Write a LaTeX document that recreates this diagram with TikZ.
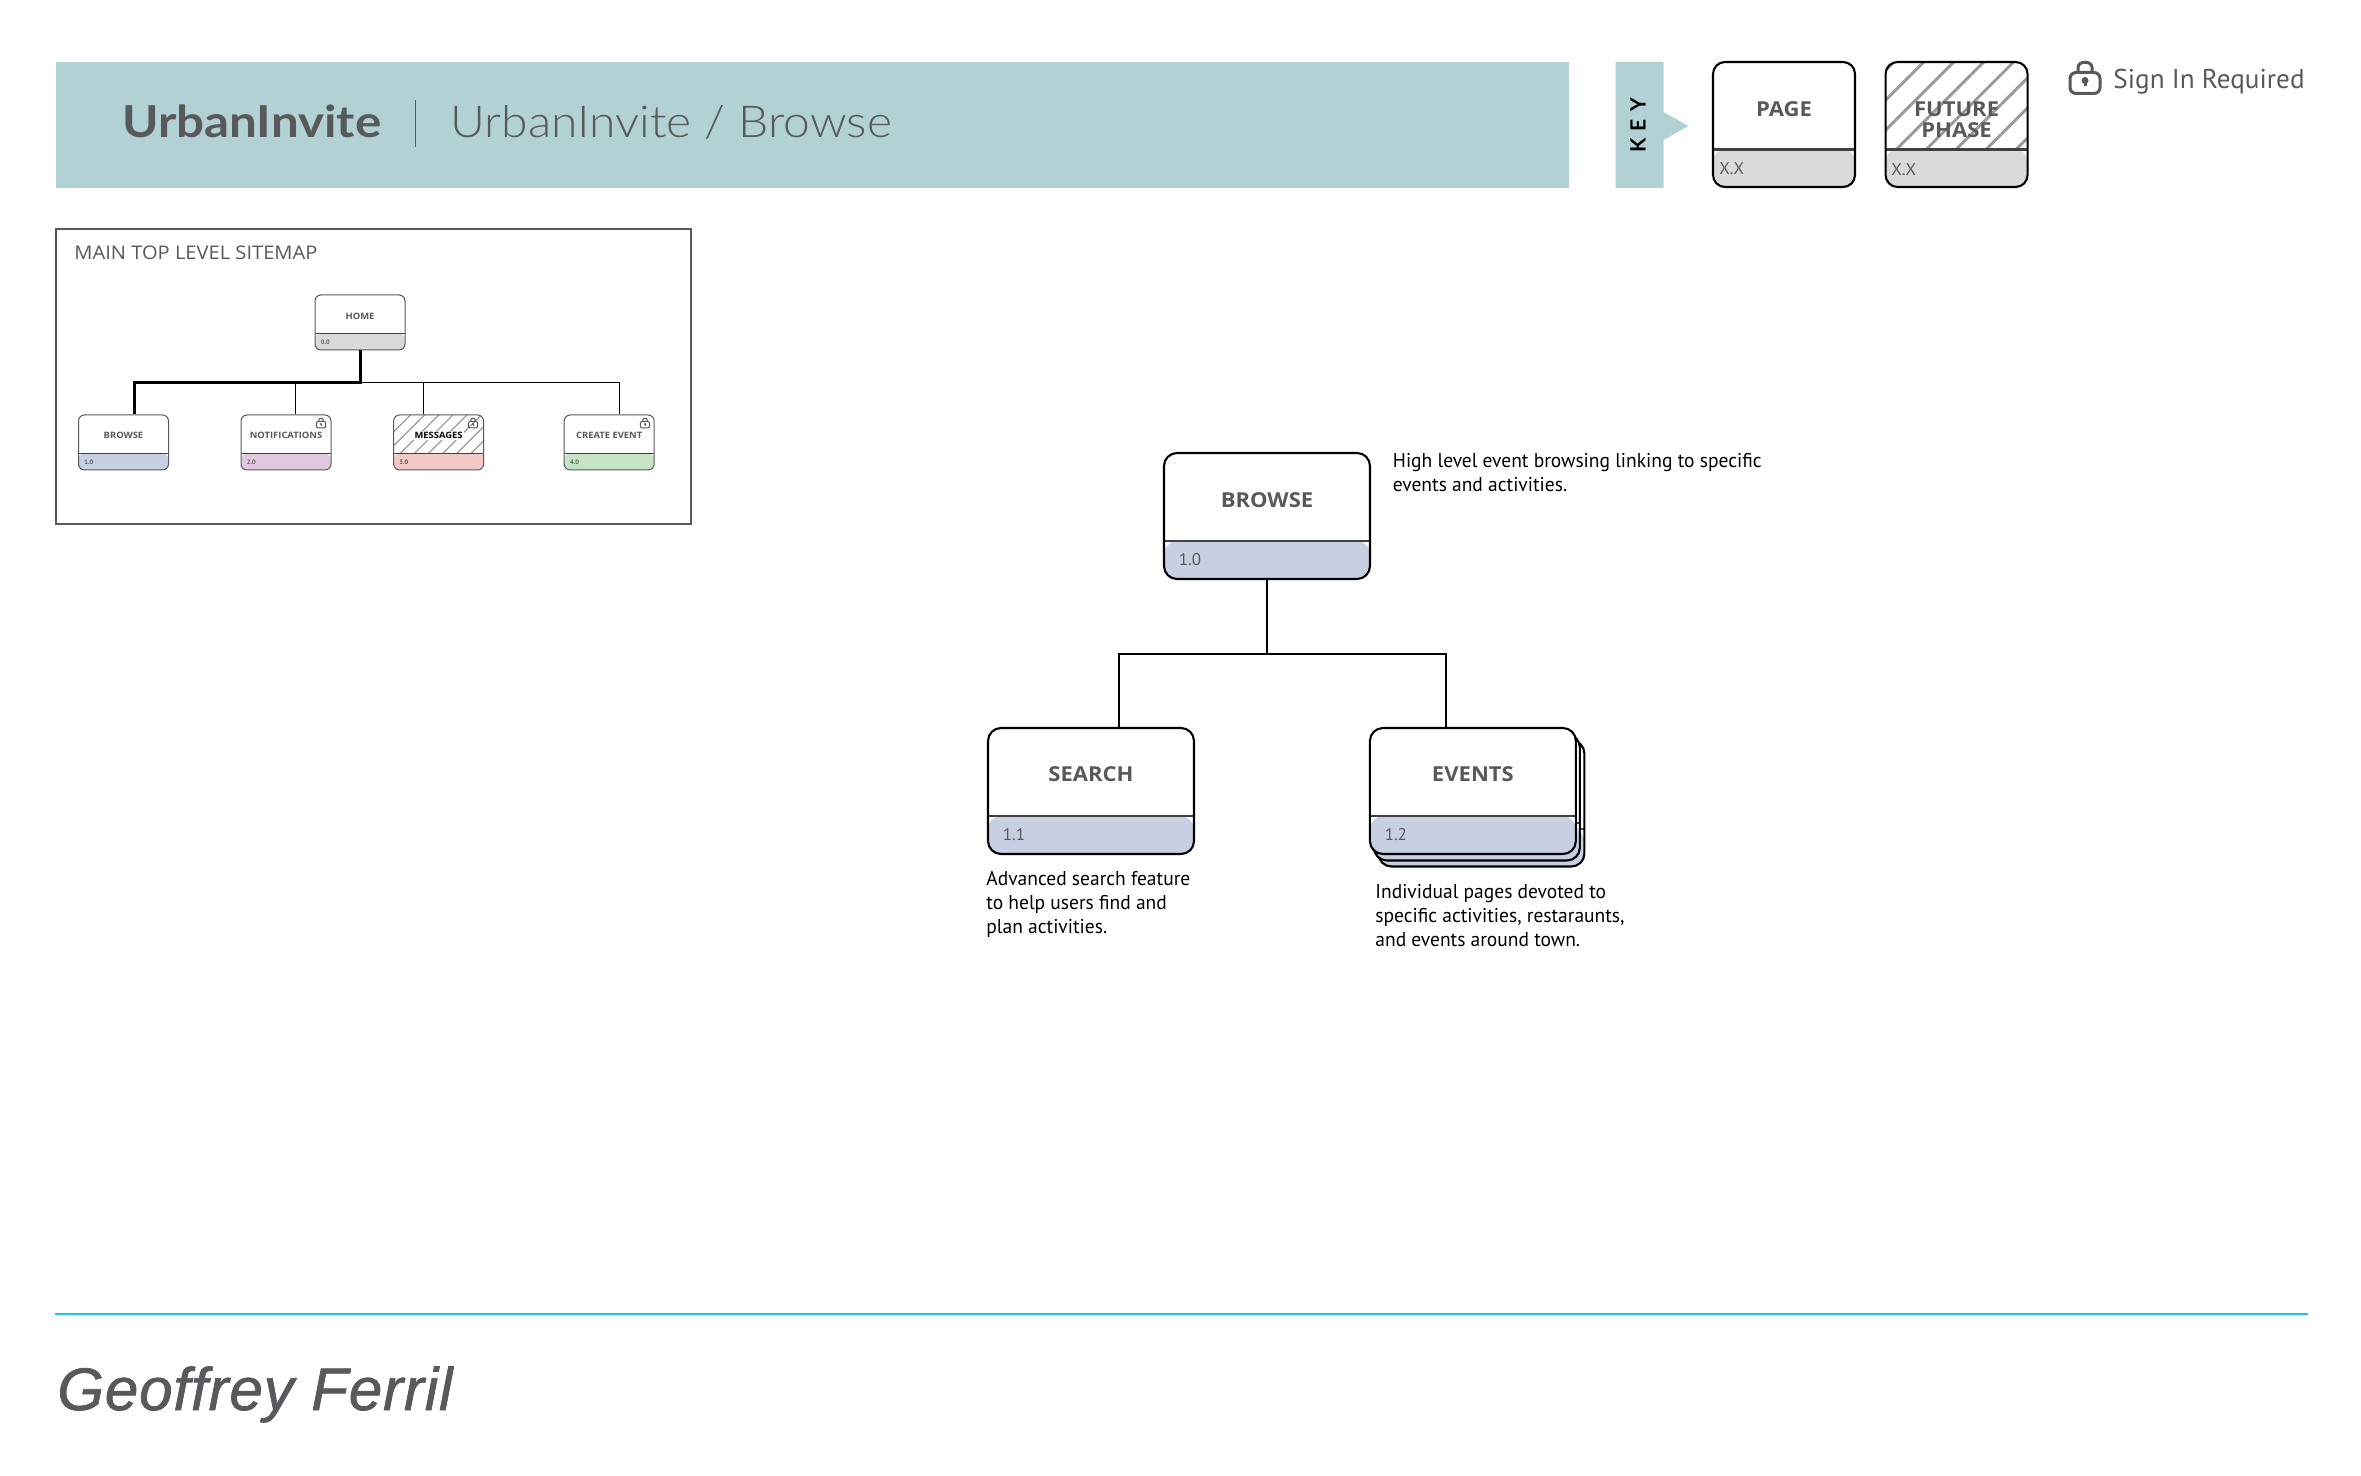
\documentclass[tikz,border=0pt]{standalone}
\usepackage{fontspec}
\setmainfont{PT Sans}
\newfontfamily\headbold{Lato}[UprightFont=* Bold,FakeStretch=1.12]
\newfontfamily\headlight{Lato}[UprightFont=* Light,FakeStretch=1.09]
\newfontfamily\keyfont{Lato}[UprightFont=* Bold,LetterSpace=35]
\newfontfamily\boxfont{Open Sans}[FakeStretch=1.07]
\newfontfamily\notefont{PT Sans}[FakeStretch=0.975]
\newfontfamily\footfont{Liberation Sans}[LetterSpace=1.5,ItalicFeatures={FakeBold=1.2}]
\usetikzlibrary{positioning,patterns.meta}

\definecolor{headteal}{HTML}{B1D1D5}
\definecolor{inkgray}{HTML}{58595B}
\definecolor{hatchgray}{HTML}{9A9A9A}
\definecolor{rulecyan}{HTML}{1CC8EE}
\definecolor{bandgray}{HTML}{DADADA}
\definecolor{bandblue}{HTML}{C7D0E3}
\definecolor{bandpink}{HTML}{E2C8DE}
\definecolor{bandred}{HTML}{F3C9C8}
\definecolor{bandgreen}{HTML}{C5E4C4}

\begin{document}
\begin{tikzpicture}[
    x=0.5pt,y=-0.5pt,
    pagebox/.style n args={5}{rectangle,draw=black,fill=white,inner sep=0pt,
        minimum width=#1,minimum height=#2,rounded corners=#4,line width=#5,
        path picture={
            \fill[#3] ([yshift=#2*0.3]path picture bounding box.south west) rectangle (path picture bounding box.south east);
            \draw[black!75,line width=#5] ([yshift=#2*0.3]path picture bounding box.south west) -- ([yshift=#2*0.3]path picture bounding box.south east);
        }},
    mainbox/.style={pagebox={103pt}{63pt}{#1}{6.5pt}{1.05pt}},
    keybox/.style={pagebox={71pt}{62.5pt}{bandgray}{6pt}{1.05pt}},
    minibox/.style={pagebox={45pt}{27.5pt}{#1}{3pt}{0.5pt},draw=inkgray},
    hatchbig/.style={pattern={Lines[angle=45,distance=10.6pt,line width=1.5pt]},pattern color=hatchgray},
    hatchmini/.style={pattern={Lines[angle=45,distance=5pt,line width=0.6pt]},pattern color=hatchgray},
    nametext/.style={inner sep=0pt,text=inkgray,font=\boxfont\bfseries\fontsize{10.3}{10.5}\selectfont,align=center},
    numtext/.style={inner sep=0pt,anchor=west,text=inkgray,font=\fontsize{8.5}{10}\selectfont},
    mininame/.style={inner sep=0pt,text=inkgray,font=\boxfont\bfseries\fontsize{4.4}{5}\selectfont},
    mininum/.style={inner sep=0pt,anchor=west,text=inkgray,font=\bfseries\fontsize{3.2}{4}\selectfont},
    desctext/.style={inner sep=0pt,anchor=north west,align=left,font=\notefont\fontsize{10}{12}\selectfont},
    link/.style={draw=black,line width=1pt},
    minilink/.style={draw=black,line width=0.5pt},
    minithick/.style={draw=black,line width=1.5pt},
    lockicon/.pic={
        \draw[inkgray,line width=#1,rounded corners=2*#1] (-15,-5) rectangle (15,16);
        \draw[inkgray,line width=#1] (-7,-5) -- (-7,-10) .. controls (-7,-17) and (7,-17) .. (7,-10) -- (7,-5);
        \fill[inkgray] (0,3) circle[radius=3.5];
        \draw[inkgray,line width=#1] (0,3) -- (0,9);
    }
]
\useasboundingbox (0,0) rectangle (2361,1476);

%--- Header band ---%
\node[rectangle,fill=headteal,minimum width=756.5pt,minimum height=63pt,inner sep=0pt] (band) at (812,125) {};
\node[inner sep=0pt,anchor=base west,text=inkgray,font=\headbold\fontsize{22}{26}\selectfont] (brand) at (122,138) {UrbanInvite};
\node[inner sep=0pt,anchor=base west,text=inkgray,font=\headlight\fontsize{22}{26}\selectfont] (crumb) at (450,138) {UrbanInvite / Browse};
\coordinate (septop) at (415.5,100);
\coordinate (sepbot) at (415.5,147);
\draw[inkgray,line width=0.7pt] (septop) -- (sepbot);

%--- Key ---%
\fill[headteal] (1615.5,62) -- (1663.5,62) -- (1663.5,112) -- (1688.5,126) -- (1663.5,140) -- (1663.5,188) -- (1615.5,188) -- cycle;
\node[inner sep=0pt,rotate=90,font=\keyfont\fontsize{10.5}{12}\selectfont] (keytag) at (1638,125.5) {KEY};
\node[keybox] (keypage) at (1784,124.5) {};
\node[keybox,hatchbig,right=14pt of keypage] (keyfuture) {};
\node[nametext] (keypagename) at ([yshift=7.5pt]keypage.center) {PAGE};
\node[nametext] (keyfuturename) at ([yshift=2.5pt]keyfuture.center) {FUTURE\\PHASE};
\node[numtext] (keypagenum) at ([xshift=3.5pt,yshift=9.5pt]keypage.south west) {X.X};
\node[numtext] (keyfuturenum) at ([xshift=3.5pt,yshift=9.5pt]keyfuture.south west) {X.X};
\pic at (2085,77.5) {lockicon=1.5pt};
\node[inner sep=0pt,anchor=base west,text=inkgray,font=\fontsize{13.6}{15}\selectfont] (signin) at (2113,89) {Sign In Required};

%--- Top level sitemap inset ---%
\node[rectangle,draw=inkgray,line width=1pt,inner sep=0pt,minimum width=317.5pt,minimum height=147.5pt] (inset) at (373,376.5) {};
\node[inner sep=0pt,anchor=base west,text=inkgray,font=\boxfont\fontsize{9.4}{11}\selectfont] (insettitle) at (74,260) {MAIN TOP LEVEL SITEMAP};

\node[minibox=bandgray] (home) at (360,322.5) {};
\node[minibox=bandblue] (mbrowse) at (123.5,442.5) {};
\node[minibox=bandpink,right=35.75pt of mbrowse] (mnotify) {};
\node[minibox=bandred,hatchmini,right=30.75pt of mnotify] (mmessage) {};
\node[minibox=bandgreen,right=39.75pt of mmessage] (mcreate) {};

\node[mininame] (homename) at ([yshift=3.25pt]home.center) {HOME};
\node[mininame] (mbrowsename) at ([yshift=3.5pt]mbrowse.center) {BROWSE};
\node[mininame] (mnotifyname) at ([yshift=3.5pt]mnotify.center) {NOTIFICATIONS};
\node[mininame,text=black,fill=white,inner sep=0.6pt] (mmessagename) at ([yshift=3.5pt]mmessage.center) {MESSAGES};
\node[mininame] (mcreatename) at ([yshift=3.5pt]mcreate.center) {CREATE EVENT};

\node[mininum] (homenum) at ([xshift=3pt,yshift=4.2pt]home.south west) {0.0};
\node[mininum] (mbrowsenum) at ([xshift=3pt,yshift=4.2pt]mbrowse.south west) {1.0};
\node[mininum] (mnotifynum) at ([xshift=3pt,yshift=4.2pt]mnotify.south west) {2.0};
\node[mininum] (mmessagenum) at ([xshift=3pt,yshift=4.2pt]mmessage.south west) {3.0};
\node[mininum] (mcreatenum) at ([xshift=3pt,yshift=4.2pt]mcreate.south west) {4.0};

\pic[scale=0.31] at (321,423) {lockicon=0.5pt};
\pic[scale=0.31] at (473,423) {lockicon=0.5pt};
\pic[scale=0.31] at (645,423) {lockicon=0.5pt};

%--- Inset connectors ---%
\draw[minilink] (home.south) -- ++(0,32) -| ([xshift=4.8pt]mnotify.north);
\draw[minilink] (home.south) -- ++(0,32) -| ([xshift=-7.75pt]mmessage.north);
\draw[minilink] (home.south) -- ++(0,32) -| ([xshift=5.25pt]mcreate.north);
\draw[minithick] (home.south) -- ++(0,32) -| ([xshift=5.25pt]mbrowse.north);

%--- Browse section ---%
\node[mainbox=bandblue] (browse) at (1267,516) {};
\node[mainbox=bandblue] (search) at (1091,791) {};
\node[mainbox=bandblue,right=86.9pt of search,xshift=4.25pt,yshift=-6.25pt] (eventsback) {};
\node[mainbox=bandblue] (eventsmid) at ([xshift=-2.25pt,yshift=3pt]eventsback.center) {};
\node[mainbox=bandblue] (events) at ([xshift=-2pt,yshift=3.25pt]eventsmid.center) {};

\node[nametext] (browsename) at ([yshift=7.75pt]browse.center) {BROWSE};
\node[nametext] (searchname) at ([yshift=8.25pt]search.center) {SEARCH};
\node[nametext] (eventsname) at ([yshift=8.25pt]events.center) {EVENTS};
\node[numtext] (browsenum) at ([xshift=7.75pt,yshift=10.25pt]browse.south west) {1.0};
\node[numtext] (searchnum) at ([xshift=7.75pt,yshift=10.25pt]search.south west) {1.1};
\node[numtext] (eventsnum) at ([xshift=7.75pt,yshift=10.25pt]events.south west) {1.2};

\draw[link] (browse.south) -- ++(0,74) -| ([xshift=13.75pt]search.north);
\draw[link] (browse.south) -- ++(0,74) -| ([xshift=-13.5pt]events.north);

\node[desctext] (browsenote) at (1392.5,452.5) {High level event browsing linking to specific\\events and activities.};
\node[desctext] (searchnote) at (986,871) {Advanced search feature\\to help users find and\\plan activities.};
\node[desctext] (eventsnote) at (1375,883.5) {Individual pages devoted to\\specific activities, restaraunts,\\and events around town.};

%--- Footer ---%
\coordinate (rulel) at (55,1314);
\coordinate (ruler) at (2308,1314);
\draw[rulecyan,line width=1pt] (rulel) -- (ruler);
\node[inner sep=0pt,anchor=base west,text=inkgray,font=\footfont\itshape\fontsize{30}{34}\selectfont] (author) at (57,1410) {Geoffrey Ferril};

\end{tikzpicture}
\end{document}
